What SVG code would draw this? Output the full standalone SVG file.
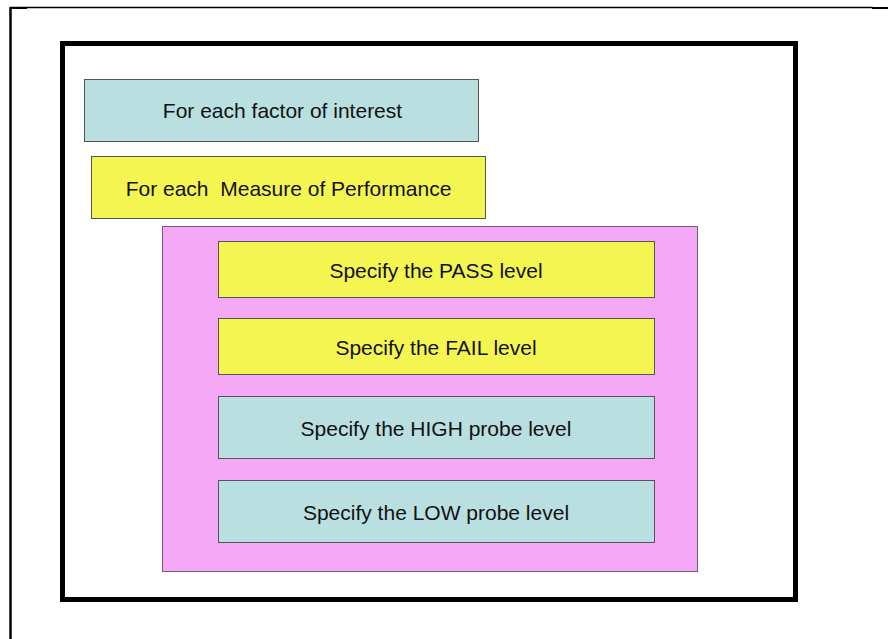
<svg xmlns="http://www.w3.org/2000/svg" width="888" height="639" viewBox="0 0 888 639">
<style>
.box{stroke:#555;stroke-width:1}
.blue{fill:#b9dfe1}
.yel{fill:#f5f552}
.pink{fill:#f5a8f5;stroke:#7a5a7a;stroke-width:1}
text{font-family:"Liberation Sans",Arial,sans-serif;font-size:21px;fill:#111;text-anchor:middle;dominant-baseline:central}
</style>
<rect width="888" height="639" fill="#fff"/>
<g id="page">
<line x1="10" y1="7.5" x2="873" y2="7.5" stroke="#000" stroke-width="1.5"/>
<line x1="10.5" y1="7" x2="10.5" y2="639" stroke="#000" stroke-width="2.5"/>
<rect x="10" y="7" width="17" height="2" fill="#000"/>
<rect x="872" y="7" width="16" height="2" fill="#000"/>
</g>
<g id="frame">
<rect x="62.5" y="43.5" width="733" height="556" fill="#fff" stroke="#000" stroke-width="5"/>
</g>
<g id="factor">
<rect class="box blue" x="84.5" y="79.5" width="394" height="62"/>
<text x="282.5" y="110">For each factor of interest</text>
</g>
<g id="mop">
<rect class="box yel" x="91.5" y="156.5" width="394" height="62"/>
<text x="288.5" y="188" xml:space="preserve">For each  Measure of Performance</text>
</g>
<g id="container">
<rect class="pink" x="162.5" y="226.5" width="535" height="345"/>
</g>
<g id="pass">
<rect class="box yel" x="218.5" y="241.5" width="436" height="56"/>
<text x="436" y="270">Specify the PASS level</text>
</g>
<g id="fail">
<rect class="box yel" x="218.5" y="318.5" width="436" height="56"/>
<text x="436" y="347">Specify the FAIL level</text>
</g>
<g id="high">
<rect class="box blue" x="218.5" y="396.5" width="436" height="62"/>
<text x="436" y="428">Specify the HIGH probe level</text>
</g>
<g id="low">
<rect class="box blue" x="218.5" y="480.5" width="436" height="62"/>
<text x="436" y="512">Specify the LOW probe level</text>
</g>
<g id="connectors"></g>
</svg>
